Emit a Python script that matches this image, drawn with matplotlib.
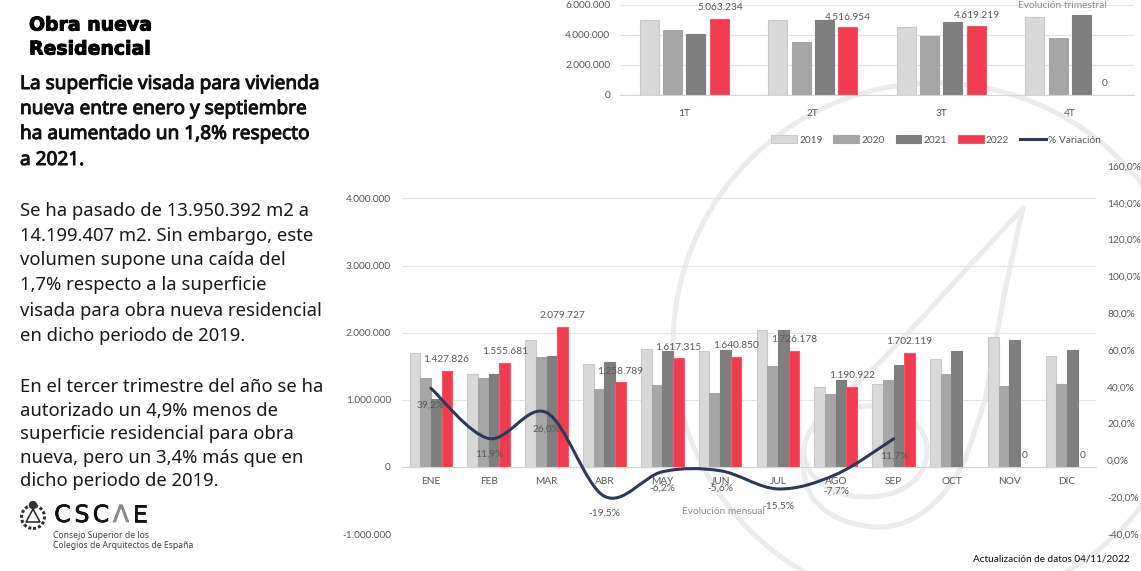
import matplotlib
matplotlib.use("Agg")
import matplotlib.pyplot as plt
import matplotlib.patheffects as pe
from matplotlib.path import Path
from matplotlib.patches import PathPatch, Patch, Circle, Polygon
from matplotlib.lines import Line2D
import numpy as np

W, H = 1141, 571
# ---------- data ----------
quarters = ["1T", "2T", "3T", "4T"]
q_2019 = [4970000, 5000000, 4500000, 5200000]
q_2020 = [4300000, 3500000, 3900000, 3800000]
q_2021 = [4050000, 5000000, 4850000, 5350000]
q_2022 = [5063234, 4516954, 4619219, 0]

months = ["ENE", "FEB", "MAR", "ABR", "MAY", "JUN", "JUL", "AGO", "SEP", "OCT", "NOV", "DIC"]
m_2019 = [1700000, 1390000, 1895000, 1540000, 1760000, 1720000, 2045000, 1195000, 1240000, 1610000, 1940000, 1655000]
m_2020 = [1320000, 1330000, 1640000, 1165000, 1215000, 1095000, 1500000, 1085000, 1290000, 1380000, 1200000, 1230000]
m_2021 = [1010000, 1390000, 1650000, 1560000, 1720000, 1740000, 2045000, 1290000, 1520000, 1730000, 1890000, 1745000]
m_2022 = [1427826, 1555681, 2079727, 1258789, 1617315, 1640850, 1726178, 1190922, 1702119, 0, 0, 0]
variation = [39.2, 11.9, 26.0, -19.5, -6.2, -5.6, -15.5, -7.7, 11.7]
years = ["2019", "2020", "2021", "2022"]

heading = ["Obra nueva", "Residencial"]
lead = ["La superficie visada para vivienda", "nueva entre enero y septiembre",
        "ha aumentado un 1,8% respecto", "a 2021."]
para1 = ["Se ha pasado de 13.950.392 m2 a", "14.199.407 m2. Sin embargo, este",
         "volumen supone una caída del", "1,7% respecto a la superficie",
         "visada para obra nueva residencial", "en dicho periodo de 2019."]
para2 = ["En el tercer trimestre del año se ha", "autorizado un 4,9% menos de",
         "superficie residencial para obra", "nueva, pero un 3,4% más que en",
         "dicho periodo de 2019."]

# ---------- style ----------
COLORS = ["#d9d9d9", "#a6a6a6", "#7f7f7f", "#f03c50"]
EDGES = ["#c9c9c9", "#a6a6a6", "#7f7f7f", "#f5566a"]
LINE = "#2d3a55"
TXT = "#595959"
GRID = "#e4e4e4"
WM = "#ececec"
FONT = "Lato"
FS = 7.3

fig = plt.figure(figsize=(W / 100, H / 100), dpi=100, facecolor="white")


def fx(x):
    return x / W


def fy(y):
    return 1 - y / H


def axes_px(l, t, r, b):
    return fig.add_axes([fx(l), fy(b), (r - l) / W, (b - t) / H], facecolor="none")


def put(x, y, s, size=FS, color=TXT, ha="center", va="center", family=FONT, **kw):
    return fig.text(fx(x), fy(y), s, fontsize=size, color=color, ha=ha, va=va, family=family, zorder=10, **kw)


def thousands(v):
    return f"{v:,}".replace(",", ".")


def pct(v):
    return f"{v:.1f}%".replace(".", ",")


# ---------- watermark ----------
def wm_path(verts, codes):
    pts = [(fx(x), fy(y)) for x, y in verts]
    fig.add_artist(PathPatch(Path(pts, codes), fill=False, ec=WM, lw=3.6, transform=fig.transFigure,
                             zorder=-1, capstyle="round", joinstyle="round"))


t = np.linspace(0, 2 * np.pi, 200)
wm_path(list(zip(935 + 262 * np.cos(t), 345 + 262 * np.sin(t))), None)
C4 = Path.CURVE4
wm_path([(1023, 208), (973, 262), (920, 320), (885, 357),
         (850, 393), (805, 420), (804, 450),
         (804, 480), (835, 497), (865, 497),
         (900, 497), (927, 480), (927, 450),
         (927, 425), (900, 405), (868, 406),
         (845, 407), (825, 420), (815, 432)],
        [Path.MOVETO, Path.LINETO, Path.LINETO, Path.LINETO] + [C4] * 15)
wm_path([(1023, 208), (1005, 290), (985, 400), (965, 460),
         (945, 500), (915, 527), (880, 527),
         (850, 527), (825, 515), (812, 497),
         (805, 485), (802, 470), (804, 450)],
        [Path.MOVETO, Path.LINETO, Path.LINETO, Path.LINETO] + [C4] * 9)


def style_axis(ax):
    for s in ("top", "right", "left"):
        ax.spines[s].set_visible(False)
    ax.spines["bottom"].set_position(("data", 0))
    ax.spines["bottom"].set_color("#d4d4d4")
    ax.spines["bottom"].set_linewidth(0.8)
    ax.grid(axis="y", color=GRID, lw=0.8)
    ax.set_axisbelow(True)
    ax.tick_params(axis="both", length=0, labelcolor=TXT, labelsize=FS)
    for lab in ax.get_xticklabels() + ax.get_yticklabels():
        lab.set_family(FONT)


def draw_bars(ax, series, pitch, width):
    for k, vals in enumerate(series):
        xs = np.arange(len(vals)) + (k - 1.5) * pitch
        keep = [i for i, v in enumerate(vals) if v > 0]
        ax.bar(xs[keep], [vals[i] for i in keep], width, color=COLORS[k], edgecolor=EDGES[k],
               linewidth=0.8, zorder=2)


# ---------- quarterly chart ----------
top = axes_px(620, 0, 1134, 95)
draw_bars(top, [q_2019, q_2020, q_2021, q_2022], 0.182, 0.148)
top.set_xlim(-0.5, 3.5)
top.set_ylim(0, 6333333)
top.set_yticks([0, 2000000, 4000000, 6000000])
top.set_yticklabels([thousands(v) for v in [0, 2000000, 4000000, 6000000]])
top.set_xticks(range(4))
top.set_xticklabels(quarters)
style_axis(top)
top.tick_params(axis="x", pad=10)
top.tick_params(axis="y", pad=7)
q_label_pos = [(720, 8), (848, 17), (977, 15.5), (1105, 84)]
for v, (x, y) in zip(q_2022, q_label_pos):
    put(x, y, thousands(v))
put(1062, 6, "Evolución trimestral", color="#8c8c8c")

# ---------- monthly chart ----------
ax = axes_px(402, 166, 1096, 534)
draw_bars(ax, [m_2019, m_2020, m_2021, m_2022], 0.185, 0.185)
ax.set_xlim(-0.5, 11.5)
ax.set_ylim(-1000000, 4484000)
ticks = [-1000000, 0, 1000000, 2000000, 3000000, 4000000]
ax.set_yticks(ticks)
ax.set_yticklabels([("-" if v < 0 else "") + thousands(abs(v)) for v in ticks])
ax.set_xticks(range(12))
ax.set_xticklabels(months)
style_axis(ax)
ax.tick_params(axis="x", pad=7)
ax.tick_params(axis="y", pad=8)

ax2 = ax.twinx()
ax2.set_facecolor("none")
ax2.set_ylim(-40, 160)
pt = list(range(-40, 161, 20))
ax2.set_yticks(pt)
ax2.set_yticklabels([pct(float(v)) for v in pt], family=FONT)
ax2.tick_params(axis="y", length=0, labelcolor=TXT, labelsize=FS, pad=8)
for s in ax2.spines.values():
    s.set_visible(False)

# Excel-style smoothed line: Bezier path through the series values
P = np.column_stack([np.arange(len(variation), dtype=float), variation])
verts = [tuple(P[0])]
codes = [Path.MOVETO]
for i in range(len(P) - 1):
    p0 = P[max(i - 1, 0)]
    p1 = P[i]
    p2 = P[i + 1]
    p3 = P[min(i + 2, len(P) - 1)]
    verts += [tuple(p1 + (p2 - p0) / 6), tuple(p2 - (p3 - p1) / 6), tuple(p2)]
    codes += [C4, C4, C4]
ax2.add_patch(PathPatch(Path(verts, codes), fill=False, ec=LINE, lw=2.2, capstyle="round", zorder=5))

m_label_pos = [(446, 360), (505, 351), (562, 316), (620, 371), (678, 347), (736, 346),
               (794, 340), (852, 375), (909, 341), (None, None), (1025, 456), (1083, 456)]
for v, (x, y) in zip(m_2022, m_label_pos):
    if x is not None:
        put(x, y, thousands(v))
v_label_pos = [(431, 405), (489, 454), (547, 429), (604, 513), (662, 488), (720, 488),
               (778, 506), (836, 491), (894, 456)]
for v, (x, y) in zip(variation, v_label_pos):
    put(x, y, pct(v))
put(723, 511, "Evolución mensual", color="#8c8c8c")

# ---------- legend ----------
leg_items = list(zip(years, COLORS, EDGES))
handles = [Patch(facecolor=c, edgecolor=e, linewidth=0.8) for _, c, e in leg_items]
handles.append(Line2D([], [], color=LINE, lw=2.2))
leg = fig.legend(handles, years + ["% Variación"], ncol=5, loc="center", bbox_to_anchor=(fx(936), fy(140)),
                 frameon=False, handlelength=2.55, handleheight=0.7, handletextpad=0.2, columnspacing=1.08,
                 prop={"family": FONT, "size": FS}, labelcolor=TXT)

# ---------- text column ----------
for y, s in zip([25, 49], heading):
    t_ = put(29, y, s, size=13.6, color="black", ha="left", family="DejaVu Sans", fontweight="bold")
    t_.set_path_effects([pe.withStroke(linewidth=0.7, foreground="black")])
for y, s in zip([84, 109, 134, 160], lead):
    t_ = put(20, y, s, size=13.7, color="#111111", ha="left", family="Noto Sans")
    t_.set_path_effects([pe.withStroke(linewidth=0.7, foreground="#111111")])
for y, s in zip([211, 236, 260, 285, 311, 336], para1):
    put(20, y, s, size=13.3, color="#1a1a1a", ha="left", family="Noto Sans")
for y, s in zip([387, 411, 434, 458, 481], para2):
    put(20, y, s, size=13.3, color="#1a1a1a", ha="left", family="Noto Sans")

# ---------- logo ----------
for x, s, c in [(62.5, "C", "#111111"), (82, "S", "#111111"), (101, "C", "#111111"),
                (121, "Λ", "#8a8a8a"), (140, "E", "#111111")]:
    t_ = put(x, 515, s, size=17, color=c, family="DejaVu Sans")
    t_.set_path_effects([pe.withStroke(linewidth=0.5, foreground=c)])
put(53, 535, "Consejo Superior de los", size=6.2, color="#444444", ha="left", family="Noto Sans")
put(53, 545, "Colegios de Arquitectos de España", size=6.2, color="#444444", ha="left", family="Noto Sans")


def aspect_circle(cx, cy, r, **kw):
    fig.add_artist(Circle((cx, H - cy), r, transform=None, **kw))


aspect_circle(33, 517, 11.5, fill=False, ec="#333333", lw=2.2, ls=(0, (1, 0.7)))
fig.add_artist(Polygon([(fx(33), fy(509)), (fx(26), fy(522)), (fx(40), fy(522))], closed=True, fill=False,
                       ec="#222222", lw=1.1, transform=fig.transFigure))
aspect_circle(33, 505, 3.5, color="#333333")

# ---------- footer ----------
put(1130, 559, "Actualización de datos 04/11/2022", size=7.2, color="#111111", ha="right")

fig.savefig("out.png", dpi=100, facecolor="white")
